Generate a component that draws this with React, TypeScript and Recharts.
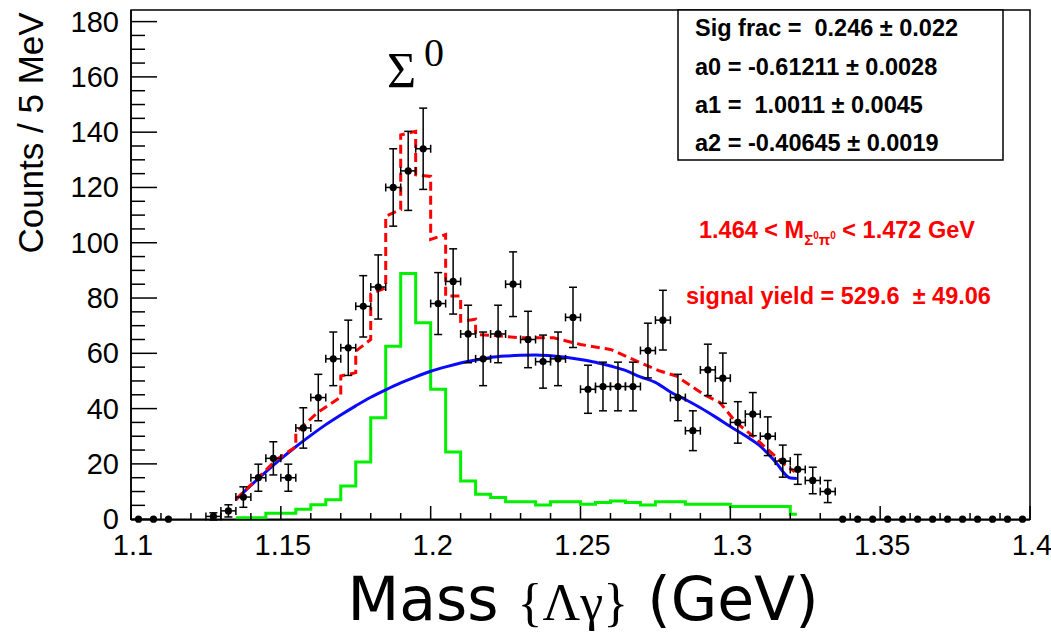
import {
  ComposedChart,
  ErrorBar,
  Line,
  ReferenceArea,
  Scatter,
  XAxis,
  YAxis,
} from "recharts";

// measured Λγ invariant mass spectrum, 5 MeV bins
const massCenters = [
  1.1275, 1.1325, 1.1375, 1.1425, 1.1475, 1.1525, 1.1575, 1.1625, 1.1675, 1.1725,
  1.1775, 1.1825, 1.1875, 1.1925, 1.1975, 1.2025, 1.2075, 1.2125, 1.2175, 1.2225,
  1.2275, 1.2325, 1.2375, 1.2425, 1.2475, 1.2525, 1.2575, 1.2625, 1.2675, 1.2725,
  1.2775, 1.2825, 1.2875, 1.2925, 1.2975, 1.3025, 1.3075, 1.3125, 1.3175, 1.3225,
  1.3275, 1.3325,
];
const counts = [
  1, 3, 8, 15, 22, 15, 33, 44, 58, 62,
  77, 84, 120, 126, 134, 78, 86, 67, 58, 67,
  85, 65, 57, 58, 73, 47, 48, 48, 48, 61,
  72, 44, 32, 54, 51, 35, 38, 30, 21, 18,
  14, 10,
];
const countErrors = [
  1.3, 2.2, 3.7, 4.9, 6.0, 4.9, 7.3, 8.4, 9.7, 10.0,
  11.1, 11.6, 14.0, 14.3, 14.7, 11.2, 11.8, 10.4, 9.7, 10.4,
  11.7, 10.2, 9.6, 9.7, 10.9, 8.7, 8.8, 8.8, 8.8, 9.9,
  10.8, 8.4, 7.2, 9.3, 9.1, 7.5, 7.8, 7.0, 5.8, 5.4,
  4.8, 4.0,
];
const emptyBins = [
  1.1025, 1.1075, 1.1125, 1.3375, 1.3425, 1.3475, 1.3525, 1.3575, 1.3625, 1.3675,
  1.3725, 1.3775, 1.3825, 1.3875, 1.3925, 1.3975,
];

// polynomial background component of the fit
const bgMass = [
  1.135, 1.14, 1.145, 1.15, 1.155, 1.16, 1.165, 1.17, 1.175, 1.18,
  1.185, 1.19, 1.195, 1.2, 1.205, 1.21, 1.215, 1.22, 1.225, 1.23,
  1.235, 1.24, 1.245, 1.25, 1.255, 1.26, 1.265, 1.27, 1.275, 1.28,
  1.285, 1.29, 1.295, 1.3, 1.305, 1.31, 1.315, 1.32, 1.3222,
];
const bgValues = [
  7.0, 12.2, 17.1, 21.8, 26.2, 30.3, 34.2, 37.7, 41.0, 44.1,
  46.8, 49.3, 51.5, 53.5, 55.1, 56.5, 57.6, 58.5, 59.0, 59.3,
  59.4, 59.1, 58.6, 57.8, 56.8, 55.4, 53.8, 51.5, 49.5, 46.0,
  43.3, 40.3, 37.0, 33.5, 30.2, 26.4, 20.8, 14.9, 14.7,
];

// Σ0 signal template (bin lower edges)
const sigMass = [
  1.135, 1.14, 1.145, 1.15, 1.155, 1.16, 1.165, 1.17, 1.175, 1.18,
  1.185, 1.19, 1.195, 1.2, 1.205, 1.21, 1.215, 1.22, 1.225, 1.23,
  1.235, 1.24, 1.245, 1.25, 1.255, 1.26, 1.265, 1.27, 1.275, 1.28,
  1.285, 1.29, 1.295, 1.3, 1.305, 1.31, 1.315, 1.32, 1.3222,
];
const sigValues = [
  0.5, 0.5, 2.1, 2.1, 3.6, 5.2, 7.0, 12.0, 20.7, 36.7,
  62.6, 88.9, 71.1, 47.0, 24.3, 13.8, 9.0, 7.8, 6.3, 6.3,
  5.1, 6.3, 6.3, 5.4, 6.0, 6.6, 6.0, 5.1, 6.3, 6.3,
  5.4, 5.4, 5.4, 4.6, 4.6, 4.6, 4.6, 1.8, 1.8,
];

// total fit (signal + background)
const totalMass = [
  1.135, 1.142, 1.1487, 1.155, 1.155, 1.1622, 1.17, 1.17, 1.175, 1.175,
  1.18, 1.18, 1.185, 1.185, 1.19, 1.19, 1.195, 1.195, 1.2, 1.2,
  1.205, 1.205, 1.21, 1.21, 1.215, 1.215, 1.22, 1.23, 1.241, 1.25,
  1.26, 1.27, 1.2765, 1.282, 1.291, 1.2965, 1.302, 1.3075, 1.3142, 1.3187,
  1.3215,
];
const totalValues = [
  7.2, 14.5, 21.7, 26.2, 31.3, 38.5, 44.2, 51.8, 53.0, 60.8,
  65.0, 81.5, 83.7, 109.6, 112.0, 139.0, 140.3, 124.6, 124.0, 101.2,
  103.0, 80.7, 80.7, 71.6, 72.3, 66.8, 66.5, 65.6, 65.6, 63.2,
  61.4, 56.6, 53.6, 51.8, 45.2, 42.2, 34.9, 30.1, 23.5, 19.3,
  17.1,
];

const xMajorLabels = ["1.1", "1.15", "1.2", "1.25", "1.3", "1.35", "1.4"];
const yMajorLabels = ["0", "20", "40", "60", "80", "100", "120", "140", "160", "180"];

const X_MIN = 1.1;
const X_MAX = 1.4;
const Y_MAX = 184.2;
const BIN_HALF = 0.0025;

const xTicks = Array.from({ length: 31 }, (_, i) => +(X_MIN + i * 0.01).toFixed(2));
const yTicks = Array.from({ length: 37 }, (_, i) => i * 5);

const points = massCenters.map((x, i) => ({
  x,
  y: counts[i],
  err: countErrors[i],
  xErr: BIN_HALF,
}));
const zeros = emptyBins.map((x) => ({ x, y: 0 }));
const bgCurve = bgMass.map((x, i) => ({ x, v: bgValues[i] }));
const sigHist = sigMass.map((x, i) => ({ x, v: sigValues[i] }));
const totalCurve = totalMass.map((x, i) => ({ x, v: totalValues[i] }));

const SANS = "'Liberation Sans', Arial, Helvetica, sans-serif";
const SERIF = "'Liberation Serif', 'Times New Roman', serif";
const TITLE_SANS = "'DejaVu Sans', Verdana, sans-serif";

const Dot = (props: any) => <circle cx={props.cx} cy={props.cy} r={3.6} fill="#000" />;

const YTick = ({ x, y, payload }: any) => {
  const v = payload.value;
  const major = v % 20 === 0;
  const label = yMajorLabels.find((l) => Number(l) === v);
  return (
    <g>
      <line x1={x} x2={x + (major ? 26 : 14)} y1={y} y2={y} stroke="#000" strokeWidth={1.5} />
      {major && label !== undefined && (
        <text x={x - 12} y={y + 10} textAnchor="end" fontSize={29} fontFamily={SANS} fill="#000">
          {label}
        </text>
      )}
    </g>
  );
};

const XTick = ({ x, y, payload }: any) => {
  const v = payload.value;
  const major = Math.round(v * 100) % 5 === 0;
  const label = xMajorLabels.find((l) => Math.abs(Number(l) - v) < 1e-6);
  return (
    <g>
      <line x1={x} x2={x} y1={y} y2={y - (major ? 14 : 7)} stroke="#000" strokeWidth={1.5} />
      {major && label && (
        <text x={x + 2} y={y + 35} textAnchor="middle" fontSize={29} fontFamily={SANS} fill="#000">
          {label}
        </text>
      )}
    </g>
  );
};

export default function App() {
  return (
    <div style={{ position: "absolute", left: 0, top: 0, width: 1051, height: 636, background: "#fff" }}>
      <ComposedChart
        width={1051}
        height={636}
        margin={{ top: 10, right: 21, bottom: 76, left: 71 }}
      >
        <XAxis
          dataKey="x"
          type="number"
          domain={[X_MIN, X_MAX]}
          ticks={xTicks}
          interval={0}
          height={40}
          tickSize={0}
          tickMargin={0}
          tickLine={false}
          tick={<XTick />}
          axisLine={{ stroke: "#000", strokeWidth: 1.5 }}
        />
        <YAxis
          type="number"
          domain={[0, Y_MAX]}
          ticks={yTicks}
          interval={0}
          width={60}
          tickSize={0}
          tickMargin={0}
          tickLine={false}
          tick={<YTick />}
          axisLine={{ stroke: "#000", strokeWidth: 1.5 }}
        />
        <ReferenceArea
          x1={X_MIN}
          x2={X_MAX}
          y1={0}
          y2={Y_MAX}
          fill="none"
          fillOpacity={0}
          stroke="#000"
          strokeWidth={1.5}
        />
        <Line
          data={sigHist}
          dataKey="v"
          type="stepAfter"
          stroke="#00f000"
          strokeWidth={3}
          dot={false}
          isAnimationActive={false}
        />
        <Line
          data={bgCurve}
          dataKey="v"
          type="monotone"
          stroke="#0a0aff"
          strokeWidth={3}
          dot={false}
          isAnimationActive={false}
        />
        <Line
          data={totalCurve}
          dataKey="v"
          type="linear"
          stroke="#ff0000"
          strokeWidth={3}
          strokeDasharray="9 5"
          dot={false}
          isAnimationActive={false}
        />
        <Scatter data={zeros} dataKey="y" shape={<Dot />} isAnimationActive={false} />
        <Scatter data={points} dataKey="y" shape={<Dot />} isAnimationActive={false}>
          <ErrorBar dataKey="err" direction="y" width={4} stroke="#000" strokeWidth={1.5} />
          <ErrorBar dataKey="xErr" direction="x" width={4} stroke="#000" strokeWidth={1.5} />
        </Scatter>
      </ComposedChart>

      <svg
        width={1051}
        height={636}
        style={{ position: "absolute", left: 0, top: 0, pointerEvents: "none" }}
      >
        {/* fit parameter box */}
        <rect x={678} y={10} width={325} height={150} fill="#fff" stroke="#000" strokeWidth={1.5} />
        <g fontFamily={SANS} fontWeight="bold" fontSize={23.5} fill="#000">
          <text xmlSpace="preserve" x={695} y={36}>{"Sig frac =  0.246 ± 0.022"}</text>
          <text xmlSpace="preserve" x={695} y={75}>{"a0 = -0.61211 ± 0.0028"}</text>
          <text xmlSpace="preserve" x={695} y={113}>{"a1 =  1.0011 ± 0.0045"}</text>
          <text xmlSpace="preserve" x={695} y={151}>{"a2 = -0.40645 ± 0.0019"}</text>
        </g>

        <g fontFamily={SANS} fontWeight="bold" fill="#ff0000">
          <text xmlSpace="preserve" x={699} y={238} fontSize={23.5}>
            {"1.464 < M"}
            <tspan fontSize={15} dy={7}>Σ</tspan>
            <tspan fontSize={10} dy={-6}>0</tspan>
            <tspan fontSize={15} dy={6}>π</tspan>
            <tspan fontSize={10} dy={-6}>0</tspan>
            <tspan fontSize={23.5} dy={-1}>{" < 1.472 GeV"}</tspan>
          </text>
          <text xmlSpace="preserve" x={686} y={304} fontSize={23.5}>
            {"signal yield = 529.6  ± 49.06"}
          </text>
        </g>

        {/* peak annotation */}
        <text x={387} y={87} fontFamily={SERIF} fontSize={50} fill="#000">Σ</text>
        <text x={424} y={66} fontFamily={SERIF} fontSize={40} fill="#000">0</text>

        {/* axis titles */}
        <text
          x={0}
          y={0}
          transform="translate(43,133) rotate(-90)"
          textAnchor="middle"
          fontFamily={SANS}
          fontSize={35}
          fill="#000"
        >
          Counts / 5 MeV
        </text>
        <text xmlSpace="preserve" x={583} y={620} textAnchor="middle" fill="#000">
          <tspan fontFamily={TITLE_SANS} fontSize={60}>{"Mass "}</tspan>
          <tspan fontFamily={SERIF} fontSize={52}>{"{Λγ}"}</tspan>
          <tspan fontFamily={TITLE_SANS} fontSize={60}>{" (GeV)"}</tspan>
        </text>
      </svg>
    </div>
  );
}
